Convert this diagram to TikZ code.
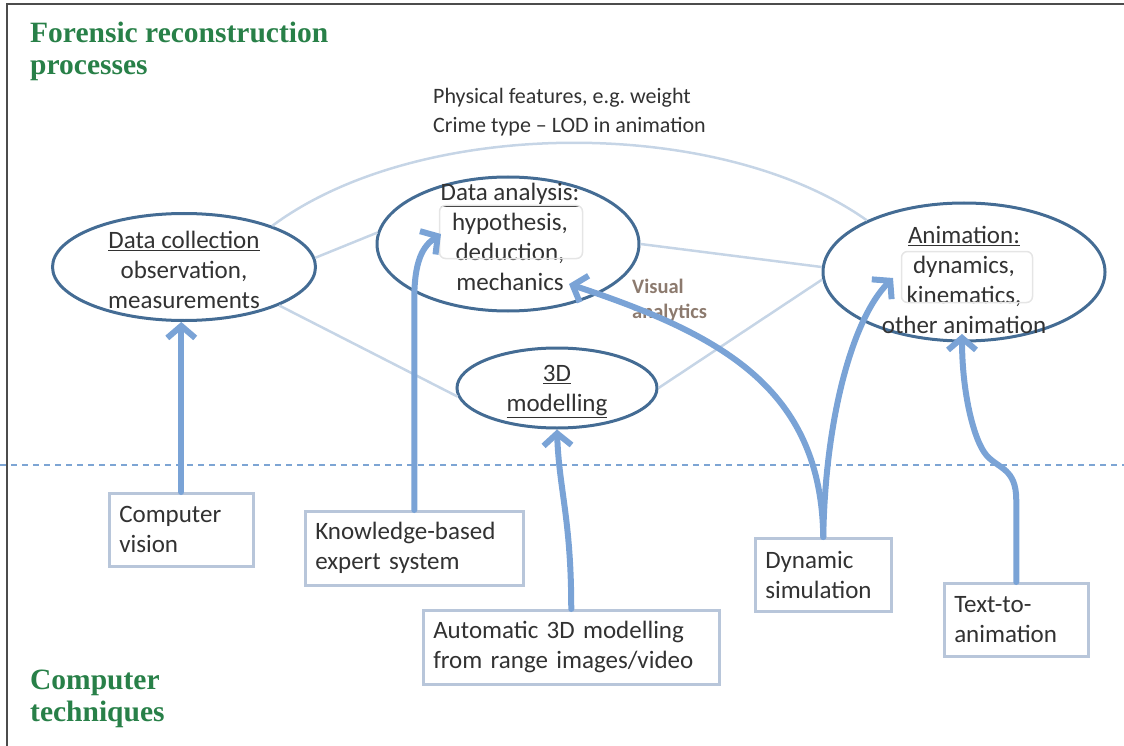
\documentclass[tikz,border=0pt]{standalone}
\usepackage{fontspec}
\setmainfont{Carlito}
\newfontfamily\headfont{Liberation Serif}
\usepackage{tikz}
\usetikzlibrary{arrows.meta, shapes.geometric, calc}
\frenchspacing

\definecolor{procline}{RGB}{68,108,148}
\definecolor{techblue}{RGB}{122,163,214}
\definecolor{linkgray}{RGB}{198,213,230}
\definecolor{boxline}{RGB}{184,198,218}
\definecolor{headgreen}{RGB}{40,128,72}
\definecolor{textgray}{RGB}{50,50,50}
\definecolor{vislabel}{RGB}{140,122,110}
\definecolor{sepblue}{RGB}{125,165,212}

\begin{document}
\begin{tikzpicture}[x=1pt, y=-1pt,
        process/.style={draw=procline, ellipse, line width=3pt, inner sep=0pt},
        proctext/.style={align=center, inner sep=0pt, text=textgray, font=\fontsize{25}{30}\selectfont},
        technique/.style={draw=boxline, line width=2.5pt, fill=white, anchor=north west, align=left, inner xsep=10pt, inner ysep=0pt, text=textgray, font=\fontsize{25}{30}\selectfont},
        heading/.style={anchor=north west, align=left, inner sep=0pt, text=headgreen, font=\headfont\bfseries\fontsize{29.5}{32}\selectfont},
        hint/.style={draw=gray!20, line width=1.5pt, rounded corners=6pt},
        link/.style={draw=linkgray, line width=2.5pt},
        uses/.style={draw=techblue, line width=6pt, line cap=round, -{Straight Barb[length=12pt, width=28pt]}}
    ]
        \useasboundingbox (0,0) rectangle (1124,746);

        % frame and headings
        \draw[gray!60!black, line width=2.5pt] (7,746) -- (7,4) -- (1124,4);
        \node[heading] (forensic) at (30,22) {Forensic reconstruction\\processes};
        \node[heading] (computer) at (30,670) {Computer\\techniques};

        \node[anchor=west, align=left, inner sep=0pt, text=textgray, font=\fontsize{22}{29}\selectfont] (features) at (433,112)
            {Physical features, e.g. weight\\Crime type -- LOD in animation};

        % processes
        \node[process, minimum width=263pt, minimum height=107pt] (collect) at (184,267) {};
        \node[process, minimum width=262pt, minimum height=134pt] (analysis) at (508,244) {};
        \node[process, minimum width=200pt, minimum height=80pt] (model) at (557,388) {};
        \node[process, minimum width=282pt, minimum height=138pt] (anim) at (964,272) {};

        \node[proctext] (collect-txt) at (184,270) {\underline{Data collection}\\observation,\\measurements};
        \node[proctext] (analysis-txt) at (510,237) {\underline{Data analysis:}\\hypothesis,\\deduction,\\mechanics};
        \node[proctext] (model-txt) at (557,392) {\underline{3D}\\\underline{modelling}};
        \node[proctext] (anim-txt) at (964,280) {\underline{Animation:}\\dynamics,\\kinematics,\\other animation};

        \node[hint, minimum width=143pt, minimum height=53pt] (analysis-hint) at (511,232) {};
        \node[hint, minimum width=131pt, minimum height=51pt] (anim-hint) at (967,277) {};

        % links between processes
        \draw[link] (collect.4) -- (analysis.175);
        \draw[link] (collect.-22) -- (model.185);
        \draw[link] (analysis.east) -- (anim.178);
        \draw[link] (model.east) -- (anim.183);
        \draw[link] (collect.25) .. controls (420,116) and (720,116) .. (anim.152);

        % separator
        \coordinate (sepL) at (0,465);
        \coordinate (sepR) at (1124,465);
        \draw[sepblue, line width=1.5pt, dash pattern=on 6pt off 5pt] (sepL) -- (sepR);

        % techniques
        \node[technique, text width=124pt, minimum height=73pt] (cv) at (108,492) {Computer\\vision};
        \node[technique, text width=198pt, minimum height=74pt] (kb) at (304,510) {Knowledge-based\\expert system};
        \node[technique, text width=276pt, minimum height=74pt] (auto) at (422,609) {Automatic 3D modelling\\from range images/video};
        \node[technique, text width=116pt, minimum height=73pt] (ds) at (754,537) {Dynamic\\simulation};
        \node[technique, text width=124pt, minimum height=73pt] (tta) at (943,582) {Text-to-\\animation};

        \node[anchor=west, align=left, inner sep=0pt, text=vislabel, font=\bfseries\fontsize{20.5}{25}\selectfont] (visual) at (632,300) {Visual\\analytics};

        % arrow tips inside the processes
        \coordinate (hyp) at (441,234);
        \coordinate (mech) at (569,284);
        \coordinate (dyn) at (893,278);
        \coordinate (other) at (962,334);

        \draw[uses] (cv.north) -- (cv.north |- collect.south);
        \draw[uses] (kb.north) -- ++(0,-210) .. controls +(0,-40) and +(-18,12) .. (hyp);
        \draw[uses] (auto.north) .. controls +(0,-90) and +(2,60) .. (model.south);
        \draw[uses] (ds.north) .. controls +(-2,-150) and +(150,50) .. (mech);
        \draw[uses] (ds.north) .. controls +(2,-120) and +(-40,40) .. (dyn);
        \draw[uses] (tta.north) -- ++(0,-82) .. controls +(0,-32) and +(12,14) .. ++(-30,-45) .. controls +(-12,-14) and +(0,60) .. (other);

    \end{tikzpicture}
\end{document}
